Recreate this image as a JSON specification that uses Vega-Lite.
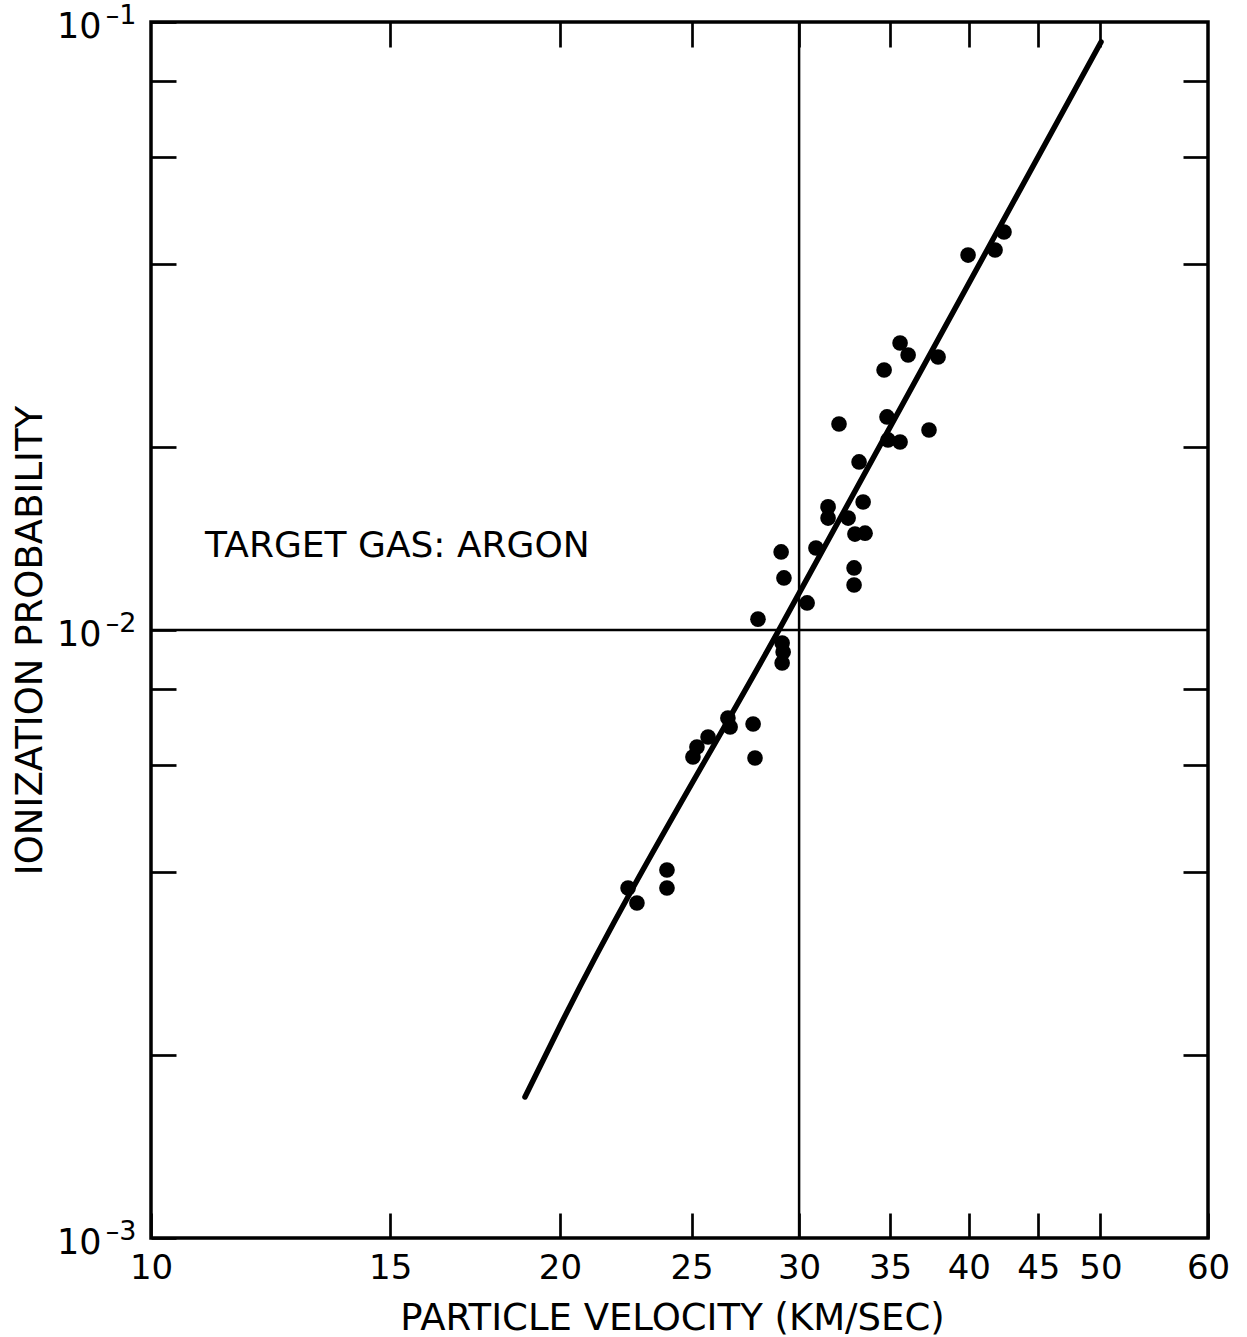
{
  "$schema": "https://vega.github.io/schema/vega-lite/v6.json",
  "width": 1057,
  "height": 1216,
  "autosize": "none",
  "padding": {"left": 151, "top": 22, "right": 39, "bottom": 99},
  "background": "white",
  "config": {
    "view": {"stroke": "black", "strokeWidth": 3.5},
    "font": "DejaVu Sans",
    "axis": {
      "grid": false,
      "domain": false,
      "tickColor": "black",
      "tickWidth": 2.7,
      "tickSize": -25,
      "labelColor": "black",
      "titleColor": "black",
      "labelFont": "DejaVu Sans",
      "titleFont": "DejaVu Sans",
      "titleFontWeight": "normal",
      "labelFlush": false,
      "labelOverlap": false,
      "labelBound": false
    }
  },
  "datasets": {
    "points": [
      {"velocity": 22.45, "probability": 0.003764},
      {"velocity": 22.79, "probability": 0.003556},
      {"velocity": 23.98, "probability": 0.00403},
      {"velocity": 23.98, "probability": 0.003764},
      {"velocity": 25.06, "probability": 0.006181},
      {"velocity": 25.23, "probability": 0.00642},
      {"velocity": 25.71, "probability": 0.006668},
      {"velocity": 26.59, "probability": 0.007166},
      {"velocity": 26.69, "probability": 0.006926},
      {"velocity": 27.75, "probability": 0.007004},
      {"velocity": 27.84, "probability": 0.006158},
      {"velocity": 27.98, "probability": 0.01042},
      {"velocity": 29.1, "probability": 0.01344},
      {"velocity": 29.24, "probability": 0.01218},
      {"velocity": 29.15, "probability": 0.009519},
      {"velocity": 29.2, "probability": 0.009201},
      {"velocity": 29.15, "probability": 0.008826},
      {"velocity": 30.41, "probability": 0.01108},
      {"velocity": 30.87, "probability": 0.01364},
      {"velocity": 31.51, "probability": 0.01594},
      {"velocity": 31.51, "probability": 0.01528},
      {"velocity": 32.1, "probability": 0.02182},
      {"velocity": 32.6, "probability": 0.01528},
      {"velocity": 32.98, "probability": 0.01438},
      {"velocity": 32.93, "probability": 0.01265},
      {"velocity": 32.93, "probability": 0.01186},
      {"velocity": 33.55, "probability": 0.01443},
      {"velocity": 33.44, "probability": 0.01624},
      {"velocity": 33.21, "probability": 0.0189},
      {"velocity": 34.82, "probability": 0.02241},
      {"velocity": 34.88, "probability": 0.02054},
      {"velocity": 35.6, "probability": 0.02038},
      {"velocity": 34.65, "probability": 0.02677},
      {"velocity": 35.6, "probability": 0.02965},
      {"velocity": 36.09, "probability": 0.02833},
      {"velocity": 37.39, "probability": 0.02133},
      {"velocity": 37.97, "probability": 0.02812},
      {"velocity": 39.95, "probability": 0.04137},
      {"velocity": 41.82, "probability": 0.04217},
      {"velocity": 42.46, "probability": 0.04514}
    ],
    "fit": [
      {"velocity": 18.85, "probability": 0.001706},
      {"velocity": 20.07, "probability": 0.002266},
      {"velocity": 29.05, "probability": 0.01008},
      {"velocity": 50.05, "probability": 0.09271}
    ]
  },
  "layer": [
    {
      "data": {"values": [{"v": 30}]},
      "mark": {"type": "rule", "color": "black", "strokeWidth": 2.5},
      "encoding": {
        "x": {
          "field": "v", "type": "quantitative",
          "scale": {"type": "log", "domain": [10, 60], "nice": false},
          "axis": {"orient": "top", "values": [15, 20, 25, 30, 35, 40, 45, 50], "labels": false, "title": null}
        }
      }
    },
    {
      "data": {"values": [{"p": 0.01}]},
      "mark": {"type": "rule", "color": "black", "strokeWidth": 2.5},
      "encoding": {
        "y": {
          "field": "p", "type": "quantitative",
          "scale": {"type": "log", "domain": [0.001, 0.1], "nice": false},
          "axis": {"orient": "right", "values": [0.002, 0.004, 0.006, 0.008, 0.02, 0.04, 0.06, 0.08], "labels": false, "title": null}
        }
      }
    },
    {
      "data": {"name": "fit"},
      "mark": {"type": "line", "color": "black", "strokeWidth": 5.5, "strokeCap": "round", "interpolate": "monotone"},
      "encoding": {
        "x": {"field": "velocity", "type": "quantitative", "scale": {"type": "log", "domain": [10, 60], "nice": false}, "axis": null},
        "y": {"field": "probability", "type": "quantitative", "scale": {"type": "log", "domain": [0.001, 0.1], "nice": false}, "axis": null}
      }
    },
    {
      "data": {"name": "points"},
      "mark": {"type": "circle", "size": 245, "color": "black", "opacity": 1},
      "encoding": {
        "x": {
          "field": "velocity", "type": "quantitative",
          "scale": {"type": "log", "domain": [10, 60], "nice": false},
          "axis": {
            "orient": "bottom",
            "values": [10, 15, 20, 25, 30, 35, 40, 45, 50, 60],
            "labelFontSize": 34,
            "labelPadding": 38,
            "title": "PARTICLE VELOCITY (KM/SEC)",
            "titleFontSize": 37,
            "titleX": 521,
            "titleY": 80,
            "titleBaseline": "middle"
          }
        },
        "y": {
          "field": "probability", "type": "quantitative",
          "scale": {"type": "log", "domain": [0.001, 0.1], "nice": false},
          "axis": {
            "orient": "left",
            "values": [0.001, 0.002, 0.004, 0.006, 0.008, 0.01, 0.02, 0.04, 0.06, 0.08, 0.1],
            "labelExpr": "datum.value == 0.1 || datum.value == 0.01 || datum.value == 0.001 ? '10' : ''",
            "labelFontSize": 35,
            "labelPadding": 75,
            "labelOffset": 4,
            "title": "IONIZATION PROBABILITY",
            "titleFontSize": 37,
            "titleX": -121,
            "titleY": 618,
            "titleBaseline": "middle"
          }
        }
      }
    },
    {
      "data": {"values": [{"velocity": 10.96, "probability": 0.01374, "label": "TARGET GAS: ARGON"}]},
      "mark": {"type": "text", "align": "left", "baseline": "middle", "fontSize": 36, "font": "DejaVu Sans", "color": "black"},
      "encoding": {
        "x": {"field": "velocity", "type": "quantitative", "scale": {"type": "log", "domain": [10, 60], "nice": false}, "axis": null},
        "y": {
          "field": "probability", "type": "quantitative",
          "scale": {"type": "log", "domain": [0.001, 0.1], "nice": false},
          "axis": {
            "orient": "left",
            "values": [0.001, 0.01, 0.1],
            "labelExpr": "datum.value == 0.1 ? '–1' : datum.value == 0.01 ? '–2' : '–3'",
            "ticks": false,
            "tickSize": 0,
            "labelFontSize": 27,
            "labelPadding": 15,
            "labelOffset": -7,
            "title": null
          }
        },
        "text": {"field": "label"}
      }
    }
  ],
  "resolve": {"axis": {"x": "independent", "y": "independent"}}
}
